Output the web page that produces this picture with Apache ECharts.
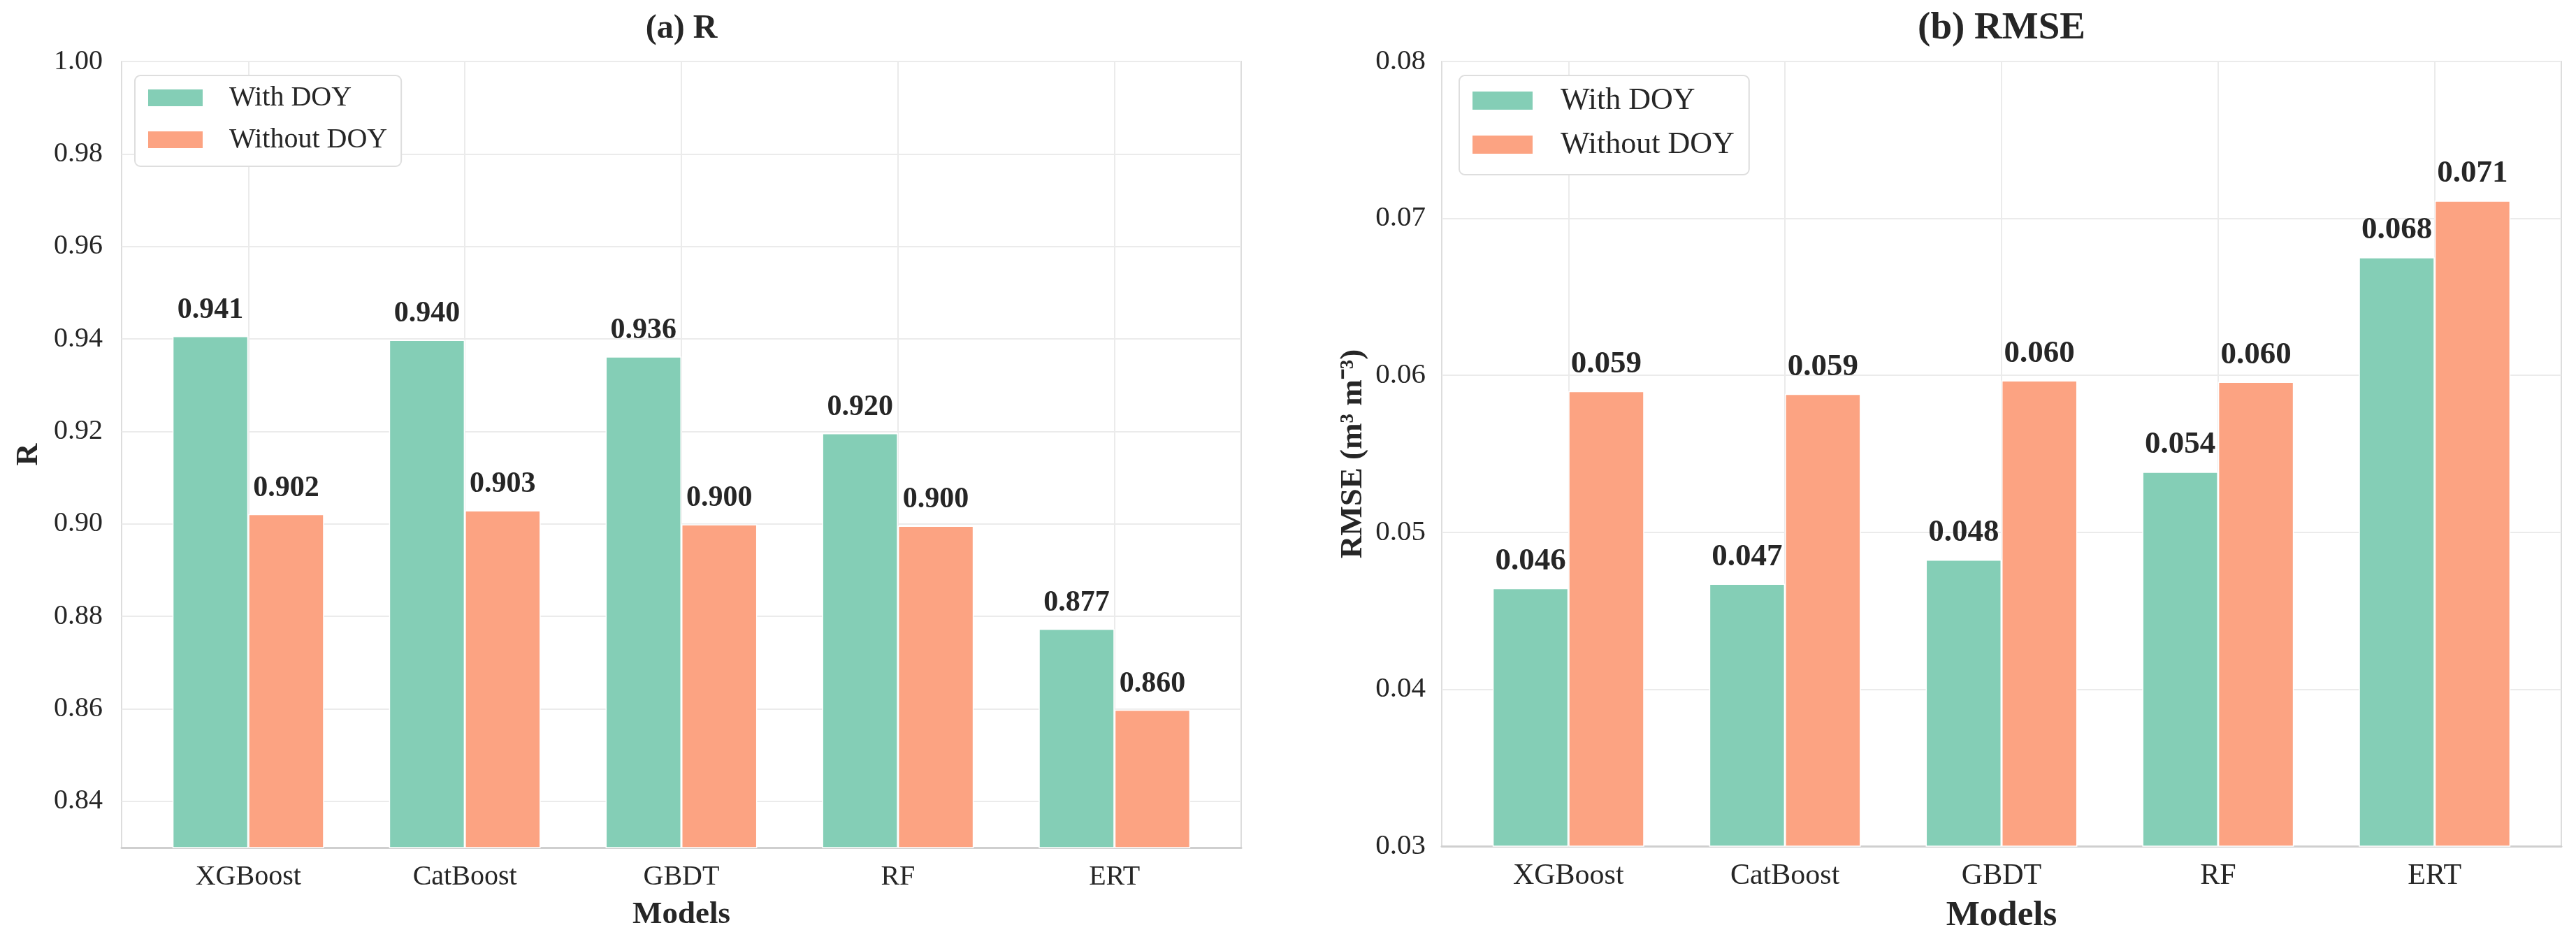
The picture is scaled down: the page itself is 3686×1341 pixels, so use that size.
<!DOCTYPE html>
<html>
<head>
<meta charset="utf-8">
<script src="https://cdn.jsdelivr.net/npm/echarts@6/dist/echarts.min.js"></script>
<style>
html,body{margin:0;padding:0;background:#fff;}
#chart{width:3686px;height:1341px;}
</style>
</head>
<body>
<div id="chart"></div>
<script>
const categories = ['XGBoost', 'CatBoost', 'GBDT', 'RF', 'ERT'];
const seriesNames = ['With DOY', 'Without DOY'];
const rWith = [0.9406, 0.9398, 0.9362, 0.9196, 0.8773];
const rWithout = [0.9021, 0.9029, 0.8999, 0.8996, 0.8598];
const rmseWith = [0.04644, 0.04672, 0.04826, 0.05385, 0.06752];
const rmseWithout = [0.0590, 0.05882, 0.05968, 0.05959, 0.07113];
const rTicks = [0.84, 0.86, 0.88, 0.90, 0.92, 0.94, 0.96, 0.98, 1.00];
const rmseTicks = [0.03, 0.04, 0.05, 0.06, 0.07, 0.08];
const catPositions = categories.map((c, i) => i);

const FONT = "'Liberation Serif', 'Times New Roman', serif";
const TXT = '#262626';
const GREEN = '#84ceb6';
const ORANGE = '#fca382';
const GRIDLINE = '#ebebeb';

const chart = echarts.init(document.getElementById('chart'), null, {renderer: 'canvas'});

function xAxisCfg(gridIndex, nameSize, labelSize) {
  return {
    type: 'value', gridIndex: gridIndex, min: -0.585, max: 4.585,
    name: 'Models', nameLocation: 'middle', nameGap: 74,
    nameTextStyle: {fontFamily: FONT, fontSize: nameSize, fontWeight: 'bold', color: TXT, lineHeight: nameSize},
    axisLine: {show: true, lineStyle: {color: '#cfcfcf', width: 3}},
    axisTick: {show: false, customValues: catPositions},
    axisLabel: {customValues: catPositions, margin: 22, fontFamily: FONT, fontSize: labelSize, color: TXT,
      formatter: v => categories[Math.round(v)] || ''},
    splitLine: {show: true, lineStyle: {color: GRIDLINE, width: 2}}
  };
}

function barSeries(name, xi, values, color, labelSize) {
  return {
    type: 'bar', name: name, xAxisIndex: xi, yAxisIndex: xi,
    data: values.map((v, i) => [catPositions[i], v]),
    barWidth: '35%', barGap: '0%',
    itemStyle: {color: color, borderColor: '#ffffff', borderWidth: 1.5},
    label: {show: true, position: 'top', distance: 16, fontFamily: FONT, fontSize: labelSize,
      fontWeight: 'bold', color: TXT, lineHeight: labelSize,
      formatter: p => p.value[1].toFixed(3)},
    emphasis: {disabled: true}
  };
}

function legendCfg(left, fontSize, iw, ih, gap, pad, textPad) {
  return {
    left: left, top: 108, orient: 'vertical',
    data: seriesNames,
    itemWidth: iw, itemHeight: ih, itemGap: gap,
    backgroundColor: '#ffffff', borderColor: '#dedede', borderWidth: 2, borderRadius: 8,
    padding: pad,
    icon: 'rect',
    textStyle: {fontFamily: FONT, fontSize: fontSize, color: TXT, lineHeight: fontSize, padding: [0, 0, 0, textPad]}
  };
}

const option = {
  backgroundColor: '#ffffff',
  animation: false,
  color: [GREEN, ORANGE],
  graphic: [
    {type: 'text', x: 975, y: 42, style: {text: '(a) R', align: 'center', verticalAlign: 'middle',
      font: "bold 48px 'Liberation Serif'", fill: TXT}},
    {type: 'text', x: 2864, y: 41, style: {text: '(b) RMSE', align: 'center', verticalAlign: 'middle',
      font: "bold 55px 'Liberation Serif'", fill: TXT}}
  ],
  legend: [
    legendCfg(193, 40, 80, 26, 20, [12, 20, 18, 17], 32),
    legendCfg(2088, 44, 88, 28, 19, [14, 21, 21, 17], 34)
  ],
  grid: [
    {left: 174, top: 88, width: 1602, height: 1125, show: true, borderColor: '#dddddd', borderWidth: 2, backgroundColor: 'transparent'},
    {left: 2063, top: 88, width: 1602, height: 1125, show: true, borderColor: '#dddddd', borderWidth: 2, backgroundColor: 'transparent'}
  ],
  xAxis: [xAxisCfg(0, 45, 40), xAxisCfg(1, 51, 42)],
  yAxis: [
    {
      type: 'value', gridIndex: 0, min: 0.83, max: 1.0,
      name: 'R', nameLocation: 'middle', nameGap: 110, nameRotate: 90,
      nameTextStyle: {fontFamily: FONT, fontSize: 44, fontWeight: 'bold', color: TXT, lineHeight: 44},
      axisLine: {show: false}, axisTick: {show: false, customValues: rTicks},
      axisLabel: {customValues: rTicks, margin: 27, fontFamily: FONT, fontSize: 40, color: TXT,
        formatter: v => v.toFixed(2)},
      splitLine: {show: true, lineStyle: {color: GRIDLINE, width: 2}}
    },
    {
      type: 'value', gridIndex: 1, min: 0.03, max: 0.08,
      name: 'RMSE (m³ m⁻³)', nameLocation: 'middle', nameGap: 104, nameRotate: 90,
      nameTextStyle: {fontFamily: FONT, fontSize: 45, fontWeight: 'bold', color: TXT, lineHeight: 45},
      axisLine: {show: false}, axisTick: {show: false, customValues: rmseTicks},
      axisLabel: {customValues: rmseTicks, margin: 23, fontFamily: FONT, fontSize: 41, color: TXT,
        formatter: v => v.toFixed(2)},
      splitLine: {show: true, lineStyle: {color: GRIDLINE, width: 2}}
    }
  ],
  series: [
    barSeries(seriesNames[0], 0, rWith, GREEN, 42),
    barSeries(seriesNames[1], 0, rWithout, ORANGE, 42),
    barSeries(seriesNames[0], 1, rmseWith, GREEN, 45),
    barSeries(seriesNames[1], 1, rmseWithout, ORANGE, 45)
  ]
};
chart.setOption(option);
</script>
</body>
</html>
